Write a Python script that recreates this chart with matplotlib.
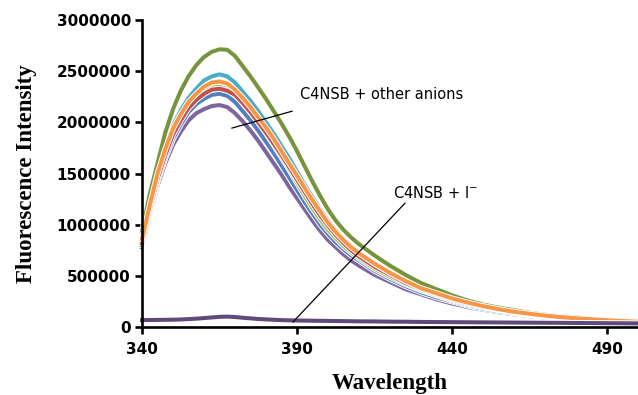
"""Fluorescence spectra of C4NSB with different anions."""

import numpy as np
import matplotlib
matplotlib.use("Agg")
import matplotlib.pyplot as plt
import matplotlib.patheffects as pe
from matplotlib.ticker import FuncFormatter

# emission wavelength (nm): 2.5 nm steps up to 410, then 5 nm
wavelength = [340, 342.5, 345, 347.5, 350, 352.5, 355, 357.5, 360, 362.5, 365, 367.5,
              370, 372.5, 375, 377.5, 380, 382.5, 385, 387.5, 390, 392.5, 395, 397.5,
              400, 402.5, 405, 407.5, 410, 415, 420, 425, 430, 435, 440, 445, 450,
              455, 460, 465, 470, 475, 480, 485, 490, 495, 500]

# intensities, in millions of counts
anion_purple = [0.78, 1.09, 1.38, 1.60, 1.78, 1.91, 2.02, 2.09, 2.13, 2.16, 2.17, 2.15,
                2.09, 2.01, 1.92, 1.82, 1.71, 1.60, 1.49, 1.37, 1.26, 1.15, 1.04, 0.94,
                0.85, 0.78, 0.71, 0.65, 0.60, 0.51, 0.44, 0.37, 0.32, 0.27, 0.23, 0.195, 0.17,
                0.145, 0.125, 0.107, 0.093, 0.081, 0.071, 0.063, 0.056, 0.049, 0.043]
anion_blue = [0.80, 1.12, 1.42, 1.65, 1.84, 1.98, 2.10, 2.18, 2.23, 2.27, 2.28, 2.26,
              2.20, 2.11, 2.02, 1.92, 1.81, 1.70, 1.58, 1.46, 1.34, 1.22, 1.11, 1.00,
              0.91, 0.83, 0.76, 0.70, 0.65, 0.55, 0.47, 0.40, 0.34, 0.29, 0.25, 0.21, 0.18,
              0.155, 0.135, 0.115, 0.10, 0.087, 0.077, 0.068, 0.06, 0.053, 0.047]
anion_lightgreen = [0.84, 1.17, 1.47, 1.70, 1.90, 2.04, 2.16, 2.24, 2.30, 2.34, 2.35, 2.33,
                    2.28, 2.20, 2.11, 2.01, 1.90, 1.78, 1.66, 1.54, 1.41, 1.28, 1.16, 1.05,
                    0.95, 0.87, 0.79, 0.73, 0.67, 0.57, 0.49, 0.42, 0.36, 0.31, 0.26, 0.22, 0.19,
                    0.165, 0.14, 0.12, 0.105, 0.09, 0.08, 0.07, 0.062, 0.055, 0.048]
anion_red = [0.82, 1.15, 1.45, 1.68, 1.88, 2.02, 2.14, 2.22, 2.28, 2.32, 2.33, 2.31,
             2.27, 2.19, 2.10, 2.00, 1.90, 1.79, 1.68, 1.56, 1.44, 1.32, 1.20, 1.09,
             0.99, 0.90, 0.82, 0.75, 0.69, 0.59, 0.51, 0.43, 0.37, 0.32, 0.27, 0.23, 0.20,
             0.17, 0.145, 0.125, 0.108, 0.093, 0.082, 0.072, 0.064, 0.056, 0.05]
anion_cyan = [0.88, 1.22, 1.52, 1.77, 1.97, 2.12, 2.24, 2.33, 2.41, 2.45, 2.47, 2.45,
              2.39, 2.30, 2.21, 2.11, 2.00, 1.89, 1.77, 1.65, 1.52, 1.39, 1.27, 1.15,
              1.04, 0.94, 0.86, 0.79, 0.73, 0.62, 0.53, 0.45, 0.38, 0.33, 0.28, 0.24, 0.205,
              0.175, 0.15, 0.13, 0.11, 0.095, 0.085, 0.075, 0.065, 0.057, 0.05]
anion_green = [0.93, 1.30, 1.60, 1.90, 2.13, 2.31, 2.45, 2.56, 2.64, 2.69, 2.715, 2.71,
               2.65, 2.55, 2.45, 2.34, 2.23, 2.11, 1.99, 1.86, 1.72, 1.57, 1.42, 1.28,
               1.15, 1.04, 0.95, 0.875, 0.81, 0.70, 0.60, 0.51, 0.43, 0.37, 0.31, 0.26, 0.22,
               0.19, 0.165, 0.14, 0.12, 0.105, 0.095, 0.08, 0.07, 0.06, 0.05]
anion_orange = [0.86, 1.19, 1.50, 1.74, 1.94, 2.08, 2.20, 2.28, 2.35, 2.39, 2.40, 2.38,
                2.32, 2.24, 2.15, 2.05, 1.95, 1.84, 1.72, 1.60, 1.48, 1.36, 1.24, 1.13,
                1.02, 0.93, 0.85, 0.78, 0.72, 0.62, 0.53, 0.45, 0.38, 0.33, 0.28, 0.24, 0.205,
                0.175, 0.15, 0.13, 0.112, 0.097, 0.086, 0.076, 0.067, 0.059, 0.052]
iodide = [0.068, 0.069, 0.07, 0.071, 0.072, 0.074, 0.078, 0.082, 0.088, 0.094, 0.100, 0.102,
          0.098, 0.091, 0.085, 0.079, 0.075, 0.071, 0.068, 0.066, 0.064, 0.063, 0.062, 0.061,
          0.06, 0.059, 0.058, 0.057, 0.056, 0.055, 0.053, 0.052, 0.05, 0.049, 0.048, 0.047, 0.046,
          0.045, 0.044, 0.043, 0.042, 0.041, 0.04, 0.039, 0.038, 0.037, 0.036]

series = [
    (anion_purple, "#8064A2"),
    (anion_blue, "#4F81BD"),
    (anion_lightgreen, "#9BBB59"),
    (anion_red, "#C0504D"),
    (anion_cyan, "#4BACC6"),
    (anion_green, "#77933C"),
    (anion_orange, "#F79646"),
    (iodide, "#604A7B"),
]

fig = plt.figure(figsize=(6.38, 3.95), dpi=100)
ax = fig.add_axes([0.2226, 0.172, 0.7774, 0.777])

outline = [pe.Stroke(linewidth=4.3, foreground="white"), pe.Normal()]
x = np.array(wavelength)
for values, color in series:
    ax.plot(x, np.array(values) * 1e6, color=color, lw=2.9,
            solid_joinstyle="round", path_effects=outline, clip_on=False)

ax.set_xlim(340, 500)
ax.set_ylim(0, 3000000)
ax.set_xticks([340, 390, 440, 490])
ax.set_yticks(np.arange(0, 3000001, 500000))
ax.yaxis.set_major_formatter(FuncFormatter(lambda v, p: f"{int(v)}"))

for side in ("top", "right"):
    ax.spines[side].set_visible(False)
for side in ("left", "bottom"):
    ax.spines[side].set_linewidth(1.9)
ax.tick_params(direction="out", length=5, width=1.9, labelsize=11, pad=3)
for lab in ax.get_xticklabels() + ax.get_yticklabels():
    lab.set_fontweight("bold")
ax.tick_params(axis="x", pad=6)

ax.set_ylabel("Fluorescence Intensity", family="Liberation Serif",
              fontweight="bold", fontsize=16.5, labelpad=14)
ax.set_xlabel("Wavelength", family="Liberation Serif",
              fontweight="bold", fontsize=16.5, labelpad=11)

# annotations
ax.plot([369.0, 388.4], [1945000, 2110000], color="black", lw=0.9)
ax.text(391, 2270000, "C4NSB + other anions", fontsize=10.5, va="center")
ax.plot([388.7, 424.8], [49000, 1210000], color="black", lw=0.9)
ax.text(421, 1310000, "C4NSB + I$^{-}$", fontsize=10.5, va="center")

fig.savefig("out.png", dpi=100)
